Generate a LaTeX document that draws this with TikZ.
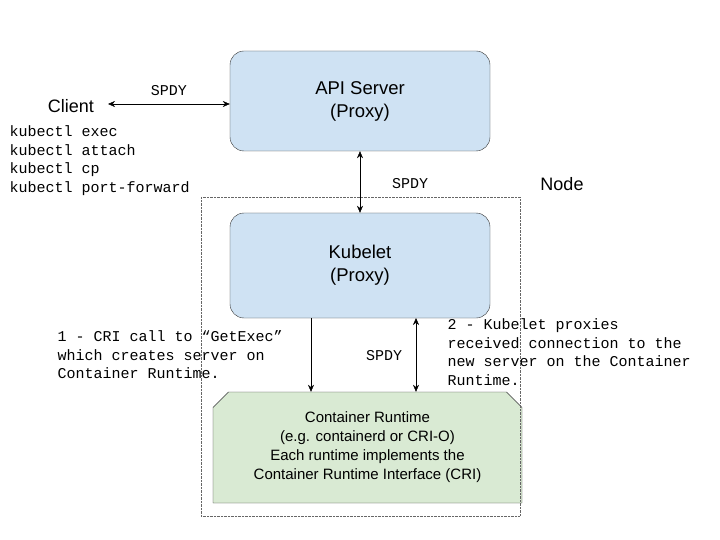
\documentclass[tikz,border=0pt]{standalone}
\usepackage{fontspec}
\setmainfont{Liberation Sans}
\setmonofont{Liberation Mono}
\usepackage{xcolor}
\usetikzlibrary{shapes.misc,arrows.meta}
\definecolor{apiblue}{HTML}{CFE2F3}
\definecolor{crigreen}{HTML}{D9EAD3}
\tikzset{
  box/.style={draw=black!80, rounded corners=14pt, minimum width=260pt, minimum height=100pt,
    align=center, font=\fontsize{18.5}{23}\selectfont},
  mono/.style={font=\ttfamily\fontsize{15}{18.7}\selectfont, align=left},
  arr/.style={-{Stealth[length=7pt,width=6pt]}},
  darr/.style={{Stealth[length=7pt,width=6pt]}-{Stealth[length=7pt,width=6pt]}}
}
\begin{document}
\begin{tikzpicture}[x=1pt,y=-1pt]
                \useasboundingbox (0,0) rectangle (720,540);
                % boxes
                \node [box, fill=apiblue] (api) at (360,101) {API Server\\(Proxy)};
                \node [box, fill=apiblue, minimum height=105pt] (kubelet) at (360,265.5) {Kubelet\\(Proxy)};
                \node [draw=black!80, fill=crigreen, chamfered rectangle, chamfered rectangle corners={north west,north east},
                    chamfered rectangle xsep=12pt, minimum width=309pt, minimum height=111pt, inner sep=0pt,
                    align=center, font=\fontsize{15}{19}\selectfont] (cri) at (367.5,447.5)
                    {Container Runtime\\(e.g. containerd or CRI-O)\\Each runtime implements the\\Container Runtime Interface (CRI)};
                \draw [densely dotted, black!60] (201,197) rectangle (520,516);
                \node (nodelabel) at (562,184) {\fontsize{18}{22}\selectfont Node};
                % client
                \node (client) at (71,106) {\fontsize{18}{22}\selectfont Client};
                \node [mono, anchor=north west] (cmds) at (6,122) {kubectl exec\\kubectl attach\\kubectl cp\\kubectl port-forward};
                \coordinate (apiw) at (api.west |- 0,104);
                \coordinate (clie) at (108,104);
                \draw [darr] (clie) -- node [mono, above=5pt] {SPDY} (apiw);
                % api to kubelet
                \draw [darr] (api.south) -- (kubelet.north);
                \node [mono] (spdya) at (410,184) {SPDY};
                % kubelet to runtime
                \coordinate (ka) at (311,318);
                \coordinate (kb) at (416,318);
                \draw [arr] (ka) -- (ka |- cri.north);
                \draw [darr] (kb) -- (kb |- cri.north);
                \node [mono] (spdyb) at (384,356) {SPDY};
                \node [mono, anchor=north west] (note1) at (54,327) {1 - CRI call to “GetExec”\\which creates server on\\Container Runtime.};
                \node [mono, anchor=north west] (note2) at (444,315) {2 - Kubelet proxies\\received connection to the\\new server on the Container\\Runtime.};
            \end{tikzpicture}
\end{document}
